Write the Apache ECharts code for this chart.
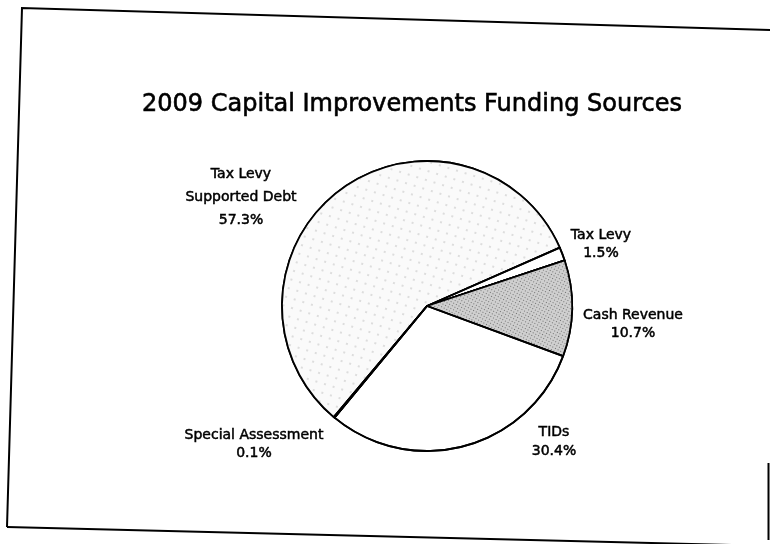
<!DOCTYPE html>
<html>
<head>
<meta charset="utf-8">
<script src="https://cdn.jsdelivr.net/npm/echarts@6/dist/echarts.min.js"></script>
<style>
html,body{margin:0;padding:0;background:#fff;}
#main{width:770px;height:544px;}
</style>
</head>
<body>
<div id="main"></div>
<script>
var titleText = '2009 Capital Improvements Funding Sources';
var categories = ['Tax Levy\nSupported Debt', 'Tax Levy', 'Cash Revenue', 'TIDs', 'Special Assessment'];
var values = [57.3, 1.5, 10.7, 30.4, 0.1];

var labelPos = [[241, 197], [601, 244], [633, 324], [554, 442], [254, 444]];
var labelLineHeights = [23, 18, 18, 19, 18];

var fills = [
  {color: '#f3f3f3', decal: {symbol: 'rect', symbolSize: 0.5, dashArrayX: [[2, 7]], dashArrayY: [2, 7], rotation: 0.3, color: 'rgba(60,60,60,0.6)', backgroundColor: '#fafafa'}},
  {color: '#ffffff', decal: {symbol: 'none'}},
  {color: '#b8b8b8', decal: {symbol: 'rect', symbolSize: 0.8, dashArrayX: [[1, 2]], dashArrayY: [1, 2], rotation: 0.5, color: 'rgba(40,40,40,0.7)', backgroundColor: '#cfcfcf'}},
  {color: '#ffffff', decal: {symbol: 'none'}},
  {color: '#ffffff', decal: {symbol: 'none'}}
];

var chart = echarts.init(document.getElementById('main'), null, {renderer: 'canvas'});

var data = categories.map(function (c, i) {
  return {
    name: c,
    value: values[i],
    itemStyle: {color: fills[i].color, decal: fills[i].decal},
    label: {lineHeight: labelLineHeights[i]}
  };
});

chart.setOption({
  backgroundColor: '#ffffff',
  animation: false,
  aria: {enabled: true, decal: {show: true}},
  title: {
    text: titleText,
    left: 407,
    top: 88,
    textAlign: 'center',
    textStyle: {fontFamily: 'DejaVu Sans', fontSize: 24, fontWeight: 'normal', color: '#000', textBorderColor: '#000', textBorderWidth: 0.6}
  },
  graphic: [
    {type: 'polyline', shape: {points: [[7, 527], [22, 8], [772, 30]]}, style: {stroke: '#000', lineWidth: 2, fill: null}},
    {type: 'polyline', shape: {points: [[7, 527], [772, 546]]}, style: {stroke: '#000', lineWidth: 2, fill: null}},
    {type: 'polyline', shape: {points: [[768.5, 463], [768.5, 540]]}, style: {stroke: '#000', lineWidth: 2, fill: null}}
  ],
  series: [{
    type: 'pie',
    center: [427, 306],
    radius: [0, 145],
    startAngle: 230,
    clockwise: true,
    silent: true,
    itemStyle: {borderColor: '#000', borderWidth: 1.8},
    label: {
      show: true,
      position: 'outside',
      fontFamily: 'DejaVu Sans',
      fontSize: 14,
      color: '#000',
      textBorderColor: '#000',
      textBorderWidth: 0.5,
      align: 'center',
      formatter: function (p) { return p.name + '\n' + p.value.toFixed(1) + '%'; }
    },
    labelLine: {show: false},
    labelLayout: function (p) {
      return {x: labelPos[p.dataIndex][0], y: labelPos[p.dataIndex][1], align: 'center', verticalAlign: 'middle'};
    },
    data: data
  }]
});
</script>
</body>
</html>
